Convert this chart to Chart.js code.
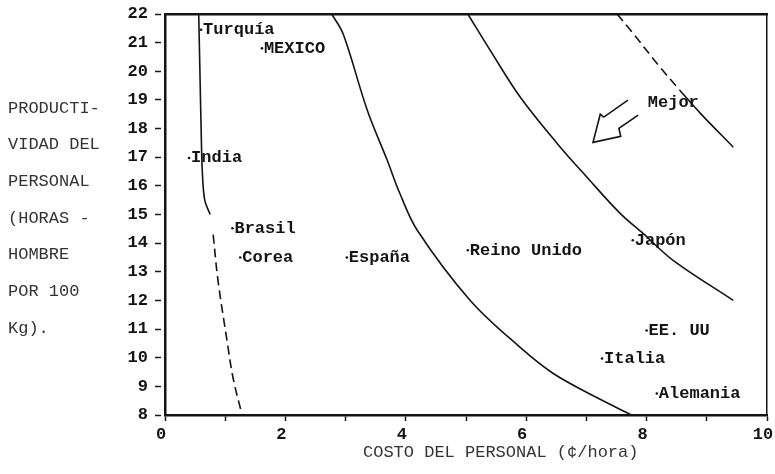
<!DOCTYPE html>
<html>
<head>
<meta charset="utf-8">
<script src="https://cdn.jsdelivr.net/npm/chart.js@4.4.0/dist/chart.umd.min.js"></script>
<style>
  html, body { margin: 0; padding: 0; background: #fff; }
  #wrap { width: 775px; height: 474px; position: relative; }
</style>
</head>
<body>
<div id="wrap"><canvas id="chart"></canvas></div>
<script>
// countries: labour cost ($/hora) vs productivity (horas-hombre por 100 kg)
const countries = ['Turquía', 'MEXICO', 'India', 'Brasil', 'Corea', 'España', 'Reino Unido', 'Japón', 'EE. UU', 'Italia', 'Alemania'];
const cost = [0.6, 1.61, 0.4, 1.12, 1.25, 3.02, 5.03, 7.77, 8.0, 7.26, 8.17];
const productivity = [21.45, 20.8, 16.97, 14.52, 13.5, 13.5, 13.75, 14.1, 10.95, 9.97, 8.75];

// iso-cost curves
const curve1X = [0.56, 0.58, 0.6, 0.62, 0.66, 0.75];
const curve1Y = [22, 20, 18, 16.5, 15.5, 15];
const curve1bX = [0.8, 0.88, 1.03, 1.13, 1.28];
const curve1bY = [14.3, 12.7, 10.6, 9.3, 8];
const curve2X = [2.77, 2.96, 3.36, 3.69, 3.9, 4.19, 5.07, 5.9, 6.45, 7.18, 7.75];
const curve2Y = [22, 21.3, 18.64, 16.9, 15.74, 14.45, 12.0, 10.36, 9.45, 8.6, 8.0];
const curve3X = [5.03, 5.4, 5.9, 6.51, 7.01, 7.56, 7.94, 8.44, 9.44];
const curve3Y = [22, 20.74, 19.1, 17.49, 16.3, 15.04, 14.34, 13.4, 12.0];
const curve4aX = [7.51, 7.77, 8.2, 8.55];
const curve4aY = [22, 21.34, 20.2, 19.34];
const curve4bX = [8.55, 8.89, 9.44];
const curve4bY = [19.34, 18.54, 17.35];

// "Mejor" arrow outline
const arrowX = [7.69, 7.29, 7.23, 7.11, 7.57, 7.54, 7.86];
const arrowY = [18.99, 18.40, 18.50, 17.52, 17.73, 18.01, 18.47];
const mejorLabel = 'Mejor';
const mejorAt = [8.02, 18.89];

const yTitleLines = ['PRODUCTI-', 'VIDAD DEL', 'PERSONAL', '(HORAS -', 'HOMBRE', 'POR 100', 'Kg).'];
const xTitle = 'COSTO DEL PERSONAL (¢/hora)';

const ink = '#141414';
const toPoints = (xs, ys) => xs.map((v, i) => ({ x: v, y: ys[i] }));

function curve(xs, ys, dashed) {
    return {
        type: 'line',
        data: toPoints(xs, ys),
        borderColor: ink,
        borderWidth: 1.6,
        borderDash: dashed ? [9, 5] : [],
        pointRadius: 0,
        tension: 0.35,
        fill: false
    };
}

const textPlugin = {
    id: 'textPlugin',
    afterDatasetsDraw(chart) {
        const { ctx, scales: { x, y } } = chart;
        ctx.save();
        ctx.fillStyle = ink;
        ctx.textBaseline = 'middle';
        ctx.font = 'bold 17px "Liberation Mono"';
        countries.forEach((name, i) => {
            ctx.fillText(name, x.getPixelForValue(cost[i]) + 2, y.getPixelForValue(productivity[i]));
        });
        ctx.fillText(mejorLabel, x.getPixelForValue(mejorAt[0]), y.getPixelForValue(mejorAt[1]));

        ctx.font = '17px "Liberation Mono"';
        ctx.fillStyle = '#333';
        yTitleLines.forEach((line, i) => {
            ctx.fillText(line, 8, 108 + i * 36.7);
        });
        ctx.fillText(xTitle, 363, 452);
        ctx.restore();
    }
};

const tickFont = { family: 'Liberation Mono', size: 17, weight: 'bold' };

new Chart(document.getElementById('chart'), {
    type: 'scatter',
    data: {
        datasets: [
            curve(curve1X, curve1Y, false),
            curve(curve1bX, curve1bY, true),
            curve(curve2X, curve2Y, false),
            curve(curve3X, curve3Y, false),
            curve(curve4aX, curve4aY, true),
            curve(curve4bX, curve4bY, false),
            {
                type: 'line',
                data: toPoints(arrowX, arrowY),
                borderColor: ink,
                borderWidth: 1.6,
                pointRadius: 0,
                tension: 0,
                fill: false
            },
            {
                type: 'scatter',
                data: toPoints(cost, productivity),
                backgroundColor: ink,
                borderWidth: 0,
                pointRadius: 1.3
            }
        ]
    },
    options: {
        responsive: true,
        maintainAspectRatio: false,
        animation: false,
        events: [],
        layout: { padding: { top: 14, right: 8, left: 0, bottom: 0 } },
        plugins: {
            legend: { display: false },
            tooltip: { enabled: false }
        },
        scales: {
            x: {
                type: 'linear',
                min: 0,
                max: 10,
                afterFit: s => { s.height = 59; s.paddingLeft = 0; s.paddingRight = 0; },
                ticks: {
                    stepSize: 1,
                    padding: 4,
                    labelOffset: -4,
                    color: ink,
                    font: tickFont,
                    maxRotation: 0,
                    callback: v => (v % 2 === 0 ? v : '')
                },
                grid: { drawOnChartArea: false, tickLength: 6, color: ink, tickWidth: 1.5 },
                border: { color: ink, width: 2.5 }
            },
            y: {
                type: 'linear',
                min: 8,
                max: 22,
                afterFit: s => { s.width = 165; s.paddingTop = 0; s.paddingBottom = 0; },
                ticks: { stepSize: 1, padding: 7, color: ink, font: tickFont },
                grid: { drawOnChartArea: false, tickLength: 10, tickBorderDash: [6, 30], color: ink, tickWidth: 1.5 },
                border: { color: ink, width: 2.5 }
            },
            x2: {
                type: 'linear',
                position: 'top',
                min: 0,
                max: 10,
                afterFit: s => { s.height = 0; },
                ticks: { display: false },
                grid: { display: false },
                border: { color: ink, width: 2.5 }
            },
            y2: {
                type: 'linear',
                position: 'right',
                min: 8,
                max: 22,
                afterFit: s => { s.width = 0; },
                ticks: { display: false },
                grid: { display: false },
                border: { color: ink, width: 1.5 }
            }
        }
    },
    plugins: [textPlugin]
});
</script>
</body>
</html>
